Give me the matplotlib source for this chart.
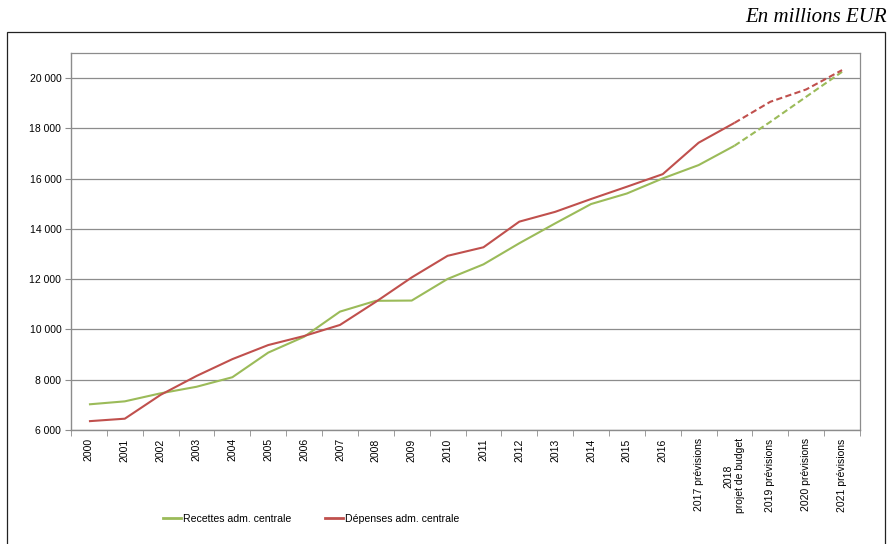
import matplotlib.pyplot as plt
from matplotlib.lines import Line2D
from matplotlib.patches import Rectangle
import numpy as np

years = ['2000', '2001', '2002', '2003', '2004', '2005', '2006', '2007',
         '2008', '2009', '2010', '2011', '2012', '2013', '2014', '2015',
         '2016', '2017 prévisions', '2018\nprojet de budget',
         '2019 prévisions', '2020 prévisions', '2021 prévisions']
recettes = [7020, 7140, 7460, 7720, 8100, 9080, 9710, 10710, 11140, 11150,
            12010, 12590, 13430, 14220, 14990, 15410, 16010, 16540, 17310,
            18260, 19260, 20250]
depenses = [6350, 6450, 7400, 8150, 8820, 9380, 9740, 10180, 11100, 12070,
            12930, 13270, 14290, 14680, 15190, 15680, 16180, 17430, 18220,
            19060, 19550, 20320]
split = 18  # projections start after the 2018 budget

green = '#9BBB59'
red = '#C0504D'

plt.rcParams['font.family'] = ['Liberation Sans', 'DejaVu Sans']

fig = plt.figure(figsize=(8.9, 5.44), dpi=100)
ax = fig.add_axes([71 / 890, 114 / 544, 789 / 890, 377 / 544])

x = np.arange(len(years))
for vals, col in [(recettes, green), (depenses, red)]:
    ax.plot(x[:split + 1], vals[:split + 1], color=col, lw=1.5,
            solid_capstyle='butt')
    ax.plot(x[split:], vals[split:], color=col, lw=1.5, ls=(0, (3, 1.6)))

ax.set_xlim(-0.5, len(years) - 0.5)
ax.set_ylim(6000, 21000)
yt = np.arange(6000, 20001, 2000)
ax.set_yticks(yt)
ax.set_yticklabels([f'{v:,}'.replace(',', ' ') for v in yt], fontsize=7.5)
ax.yaxis.grid(True, color='#8c8c8c', lw=0.9)
ax.set_axisbelow(True)

ax.set_xticks(x)
ax.set_xticklabels(years, rotation=90, fontsize=7.5, va='top', ha='center',
                   multialignment='center')
ax.set_xticks(np.arange(-0.5, len(years)), minor=True)
ax.tick_params(axis='x', which='major', length=0, pad=6)
ax.tick_params(axis='x', which='minor', length=4, color='#8c8c8c')
ax.tick_params(axis='y', length=4, color='#8c8c8c', pad=3)

for side in ['top', 'right']:
    ax.spines[side].set_color('#8c8c8c')
    ax.spines[side].set_linewidth(0.9)
for side in ['left', 'bottom']:
    ax.spines[side].set_color('#8c8c8c')
    ax.spines[side].set_linewidth(1.0)

handles = [Line2D([], [], color=green, lw=2), Line2D([], [], color=red, lw=2)]
fig.legend(handles, ['Recettes adm. centrale', 'Dépenses adm. centrale'],
           loc='center', bbox_to_anchor=(311 / 890, 1 - 519 / 544), ncol=2,
           frameon=False, fontsize=7.6, handlelength=1.7, handletextpad=0.2,
           columnspacing=3.2)

fig.patches.append(Rectangle((7 / 890, -0.05), 878 / 890, 0.05 + 1 - 32 / 544,
                             transform=fig.transFigure, fill=False,
                             ec='#222222', lw=0.9))
fig.text(887 / 890, 1 - 17 / 544, 'En millions EUR', ha='right', va='center',
         fontsize=15, style='italic', family='Liberation Serif')

fig.savefig('out.png', dpi=100)
